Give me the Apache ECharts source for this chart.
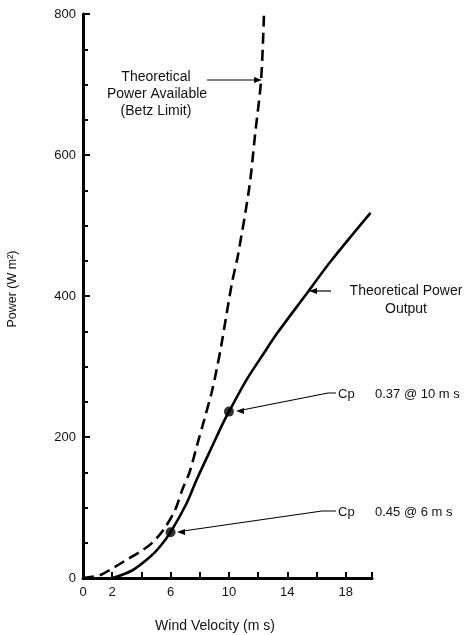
<!DOCTYPE html>
<html><head><meta charset="utf-8">
<script src="https://cdn.jsdelivr.net/npm/echarts@6/dist/echarts.min.js"></script>
<style>html,body{margin:0;padding:0;background:#fff}#c{width:465px;height:635px}</style>
</head><body><div id="c"></div>
<script>
const betzV = [0, 1.15, 2.05, 3.0, 3.9, 4.8, 5.6, 6.3, 6.8, 7.3, 7.85, 8.3, 8.8, 9.15, 9.5, 10.2, 10.6, 11.4, 11.8, 12.2, 12.4];
const betzP = [0, 4, 14, 26, 37, 51, 71, 96, 125, 150, 191, 224, 262, 295, 333, 418, 456, 555, 631, 706, 800];
const outV = [2.05, 3.4, 4.6, 5.25, 6.0, 7.1, 7.8, 8.9, 9.6, 10.0, 11.2, 12.3, 13.3, 15.2, 17.0, 19.7];
const outP = [0, 11, 30, 44, 65, 106, 140, 189, 220, 236, 281, 316, 347, 400, 450, 518];
const cpV = [6, 10];
const cpP = [65, 236];
const xTickLabels = ['0', '2', '6', '10', '14', '18'];
const yTickLabels = ['0', '200', '400', '600', '800'];

const FONT = '"Liberation Sans", Arial, sans-serif';
const chart = echarts.init(document.getElementById('c'), null, {renderer: 'canvas'});
const zip = (a, b) => a.map((v, i) => [v, b[i]]);

function arrowHead(x, y, dir) {
  const s = dir === 'right' ? -1 : 1;
  return {type: 'polygon', shape: {points: [[x, y], [x + s * 8, y - 3], [x + s * 8, y + 3]]}, style: {fill: '#000'}};
}
function txt(x, y, t, size, align) {
  return {type: 'text', x: x, y: y, style: {text: t, fill: '#111', font: size + 'px ' + FONT, align: align || 'center', verticalAlign: 'middle'}};
}
function line(pts, w) {
  return {type: 'polyline', shape: {points: pts}, style: {stroke: '#000', lineWidth: w || 1.2, fill: null}};
}

chart.setOption({
  animation: false,
  grid: {left: 83, right: 93, top: 14, bottom: 57},
  xAxis: {
    type: 'value', min: 0, max: 19.8, interval: 2,
    axisLine: {lineStyle: {color: '#000', width: 3}},
    axisTick: {inside: true, length: 6, lineStyle: {color: '#000', width: 2}},
    splitLine: {show: false},
    axisLabel: {color: '#111', fontFamily: FONT, fontSize: 13, margin: 8,
      formatter: v => xTickLabels.includes(String(v)) ? String(v) : ''}
  },
  yAxis: {
    type: 'value', min: 0, max: 800, interval: 200,
    axisLine: {show: true, lineStyle: {color: '#000', width: 3}},
    axisTick: {show: true, inside: true, length: 7, lineStyle: {color: '#000', width: 2}},
    minorTick: {show: true, splitNumber: 4, length: 5, lineStyle: {color: '#000', width: 2}},
    splitLine: {show: false},
    axisLabel: {color: '#111', fontFamily: FONT, fontSize: 13, margin: 7,
      formatter: v => yTickLabels.includes(String(v)) ? String(v) : ''}
  },
  series: [
    {type: 'line', data: zip(betzV, betzP), smooth: 0.3, symbol: 'none',
      lineStyle: {color: '#000', width: 2.6, type: [11, 6]}},
    {type: 'line', data: zip(outV, outP), smooth: 0.3, symbol: 'none',
      lineStyle: {color: '#000', width: 2.6}},
    {type: 'scatter', data: zip(cpV, cpP), symbol: 'circle', symbolSize: 10,
      itemStyle: {color: '#000'}}
  ],
  graphic: [
    txt(156, 77, 'Theoretical', 14),
    txt(157, 94, 'Power Available', 14),
    txt(156, 111, '(Betz Limit)', 14),
    line([[207, 80], [258, 80]]),
    arrowHead(262, 80, 'right'),
    txt(406, 291, 'Theoretical Power', 14),
    txt(406, 309, 'Output', 14),
    line([[331, 291], [314, 291]]),
    arrowHead(309, 291, 'left'),
    txt(338, 394, 'Cp', 13, 'left'),
    txt(375, 394, '0.37 @ 10 m s', 13, 'left'),
    line([[336, 393], [328, 393], [242, 410]]),
    arrowHead(236, 411, 'left'),
    txt(338, 512, 'Cp', 13, 'left'),
    txt(375, 512, '0.45 @ 6 m s', 13, 'left'),
    line([[336, 511], [322, 511], [183, 531]]),
    arrowHead(177, 532, 'left'),
    txt(215, 626, 'Wind Velocity (m s)', 14),
    {type: 'text', x: 13, y: 289, rotation: Math.PI / 2,
      style: {text: 'Power (W m²)', fill: '#111', font: '12.5px ' + FONT, align: 'center', verticalAlign: 'middle'}}
  ]
});
</script></body></html>
